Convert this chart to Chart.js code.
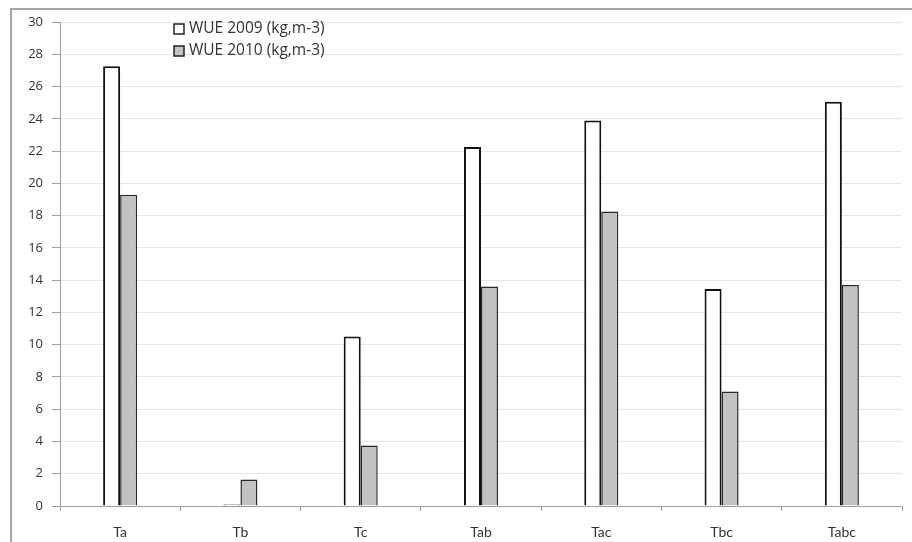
<!DOCTYPE html>
<html>
<head>
<meta charset="utf-8">
<script src="https://cdn.jsdelivr.net/npm/chart.js@4"></script>
<style>
  html, body { margin: 0; padding: 0; background: #fff; }
  #wrap { position: relative; width: 912px; height: 542px; }
  #frame { position: absolute; left: 10px; top: 8px; right: 0; bottom: 0;
           border-left: 2px solid #a6a6a6; border-top: 2px solid #a6a6a6; }
  canvas { position: absolute; left: 0; top: 0; }
</style>
</head>
<body>
<div id="wrap">
  <div id="frame"></div>
  <canvas id="chart" width="912" height="542"></canvas>
</div>
<script>
// data
const treatments = ['Ta', 'Tb', 'Tc', 'Tab', 'Tac', 'Tbc', 'Tabc'];
const wue2009 = [27.25, 0.1, 10.5, 22.25, 23.9, 13.45, 25.05];
const wue2010 = [19.3, 1.65, 3.75, 13.6, 18.25, 7.1, 13.7];
const yTicks = [0, 2, 4, 6, 8, 10, 12, 14, 16, 18, 20, 22, 24, 26, 28, 30];

const FONT = 'Lato, "Open Sans", sans-serif';
const LEGEND_FONT = '"Open Sans", Lato, sans-serif';

// legend drawn inside the plot, stacked like the original
const innerLegend = {
    id: 'innerLegend',
    afterDraw(chart) {
        const ctx = chart.ctx;
        ctx.save();
        ctx.font = '15.5px ' + LEGEND_FONT;
        ctx.textBaseline = 'middle';
        chart.data.datasets.forEach(function(ds, i) {
            const y = 29 + i * 22;
            ctx.fillStyle = ds.backgroundColor;
            ctx.strokeStyle = '#222';
            ctx.lineWidth = 1.5;
            ctx.fillRect(174, y - 5, 10, 10);
            ctx.strokeRect(174, y - 5, 10, 10);
            ctx.fillStyle = '#333';
            ctx.fillText(ds.label, 189, y);
        });
        ctx.restore();
    }
};

new Chart(document.getElementById('chart'), {
    type: 'bar',
    data: {
        labels: treatments,
        datasets: [{
            label: 'WUE 2009 (kg,m-3)',
            data: wue2009,
            backgroundColor: '#ffffff',
            borderColor: '#111111',
            borderWidth: 2
        }, {
            label: 'WUE 2010 (kg,m-3)',
            data: wue2010,
            backgroundColor: '#c2c2c2',
            borderColor: '#2a2a2a',
            borderWidth: 1.5
        }]
    },
    options: {
        responsive: false,
        animation: false,
        layout: { padding: { top: 22, right: 10, left: 0, bottom: 0 } },
        categoryPercentage: 0.283,
        barPercentage: 1.0,
        plugins: {
            legend: { display: false },
            tooltip: { enabled: false }
        },
        scales: {
            x: {
                grid: {
                    drawOnChartArea: false,
                    drawTicks: true,
                    tickLength: 5,
                    tickColor: '#a0a0a0',
                    offset: true
                },
                border: { color: '#a0a0a0', width: 1 },
                ticks: {
                    color: '#333',
                    font: { family: FONT, size: 14 },
                    padding: 13
                },
                afterFit(scale) { scale.height = 36; }
            },
            y: {
                min: 0,
                max: 30,
                afterBuildTicks(scale) {
                    scale.ticks = yTicks.map(function(v) { return { value: v }; });
                },
                grid: {
                    color: '#e6e6e6',
                    tickColor: '#a0a0a0',
                    tickLength: 8,
                    lineWidth: 1
                },
                border: { color: '#a0a0a0', width: 1 },
                ticks: {
                    color: '#333',
                    font: { family: LEGEND_FONT, size: 13 },
                    padding: 9
                },
                afterFit(scale) { scale.width = 60; }
            }
        }
    },
    plugins: [innerLegend]
});
</script>
</body>
</html>
